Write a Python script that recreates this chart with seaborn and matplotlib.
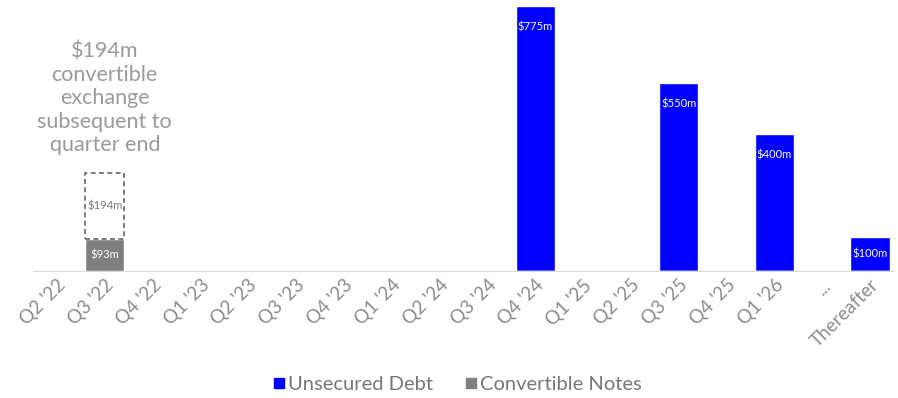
import numpy as np
import pandas as pd
import matplotlib
matplotlib.use("Agg")
import matplotlib.pyplot as plt
import seaborn as sns

# data
quarters = ["Q2 '22", "Q3 '22", "Q4 '22", "Q1 '23", "Q2 '23", "Q3 '23", "Q4 '23",
            "Q1 '24", "Q2 '24", "Q3 '24", "Q4 '24", "Q1 '25", "Q2 '25", "Q3 '25",
            "Q4 '25", "Q1 '26", "...", "Thereafter"]
unsecured = [0, 0, 0, 0, 0, 0, 0, 0, 0, 0, 775, 0, 0, 550, 0, 400, 0, 100]
convertible = [0, 93, 0, 0, 0, 0, 0, 0, 0, 0, 0, 0, 0, 0, 0, 0, 0, 0]
pending_quarter = "Q3 '22"
pending_amount = 194
note = "$194m\nconvertible\nexchange\nsubsequent to\nquarter end"

BLUE = "#0000ff"
GRAY = "#7f7f7f"
TXT = "#8c8c8c"

sns.set_style("white")
plt.rcParams["font.family"] = ["Lato", "DejaVu Sans"]

df = pd.DataFrame({
    "quarter": quarters * 2,
    "amount": unsecured + convertible,
    "series": ["Unsecured Debt"] * len(quarters) + ["Convertible Notes"] * len(quarters),
})

fig = plt.figure(figsize=(8.98, 3.98), dpi=100)
ax = fig.add_axes([33 / 898, 127 / 398, 861 / 898, 266 / 398])

sns.barplot(data=df, x="quarter", y="amount", hue="series", dodge=False,
            palette={"Unsecured Debt": BLUE, "Convertible Notes": GRAY},
            width=0.82, saturation=1, ax=ax, legend=False)

# pending exchange box, stacked on top of the convertible bar
pi = quarters.index(pending_quarter)
base = convertible[pi]
ax.bar(pi, pending_amount, bottom=base, width=0.82, fill=False,
       edgecolor="#666666", linestyle=(0, (3, 2)), linewidth=1.2)
ax.text(pi, base + pending_amount / 2, f"${pending_amount}m", ha="center", va="center",
        fontsize=8, color="#777777")

# value labels
for i, (u, c) in enumerate(zip(unsecured, convertible)):
    if u > 0:
        if u > 200:
            ax.annotate(f"${u}m", (i, u), xytext=(0, -15), textcoords="offset points",
                        ha="center", va="center", fontsize=8, color="white")
        else:
            ax.text(i, u / 2, f"${u}m", ha="center", va="center", fontsize=8, color="white")
    if c > 0:
        ax.text(i, c / 2, f"${c}m", ha="center", va="center", fontsize=8, color="white")

ax.text(pi, 505, note, ha="center", va="center", fontsize=15.5, color="#9a9a9a",
        linespacing=1.2)

ax.set_ylim(0, 778)
ax.set_xlim(-0.5, len(quarters) - 0.5)
ax.set_xlabel("")
ax.set_ylabel("")
ax.set_yticks([])
ax.tick_params(axis="x", length=0, pad=4, labelsize=13.5, labelcolor=TXT)
plt.setp(ax.get_xticklabels(), rotation=45, ha="right", rotation_mode="anchor")
for s in ["top", "right", "left"]:
    ax.spines[s].set_visible(False)
ax.spines["bottom"].set_color("#d9d9d9")

handles = [plt.Line2D([], [], marker="s", linestyle="", color=BLUE, markersize=7),
           plt.Line2D([], [], marker="s", linestyle="", color=GRAY, markersize=7)]
fig.legend(handles, ["Unsecured Debt", "Convertible Notes"], loc="center",
           bbox_to_anchor=(0.51, 14 / 398), ncol=2, frameon=False, fontsize=14.5,
           labelcolor="#777777", handlelength=0.5, handletextpad=0.2, columnspacing=1.6)

fig.savefig("out.png", dpi=100)
